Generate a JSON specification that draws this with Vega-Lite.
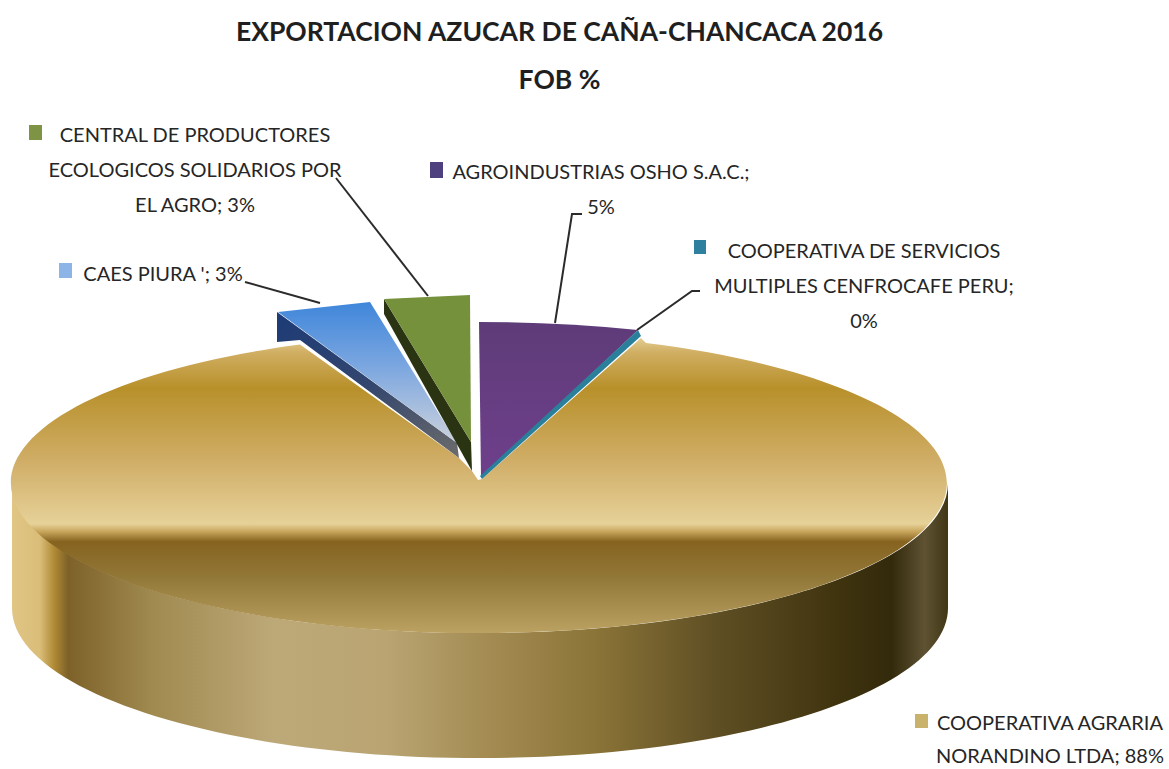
{"$schema":"https://vega.github.io/schema/vega-lite/v6.json","width":1169,"height":769,"padding":0,"autosize":{"type":"none"},"background":"white","config":{"view":{"stroke":null}},
"title":{"text":["EXPORTACION  AZUCAR DE CAÑA-CHANCACA 2016","FOB  %"],"font":"Lato","fontSize":26.5,"fontWeight":"bold","color":"#1f1f1f","anchor":"middle","baseline":"alphabetic","offset":0,"dy":115,"dx":-25,"lineHeight":48},
"resolve":{"scale":{"shape":"independent","color":"independent"}},
"data":{"values":[
{"company":"COOPERATIVA AGRARIA NORANDINO LTDA","percent":88,"label":"COOPERATIVA AGRARIA\nNORANDINO LTDA; 88%"},
{"company":"CAES PIURA","percent":3,"label":"CAES PIURA '; 3%"},
{"company":"CENTRAL DE PRODUCTORES ECOLOGICOS SOLIDARIOS POR EL AGRO","percent":3,"label":"CENTRAL DE PRODUCTORES\nECOLOGICOS SOLIDARIOS POR\nEL AGRO; 3%"},
{"company":"AGROINDUSTRIAS OSHO S.A.C.","percent":5,"label":"AGROINDUSTRIAS OSHO S.A.C.;\n5%"},
{"company":"COOPERATIVA DE SERVICIOS MULTIPLES CENFROCAFE PERU","percent":0,"label":"COOPERATIVA DE SERVICIOS\nMULTIPLES CENFROCAFE PERU;\n0%"}
]},
"layer":[
{"transform":[{"filter":"datum.percent == 88"}],"mark":{"type":"point","filled":true,"opacity":1,"size":4,"strokeWidth":0,"shape":"M-572.5,98.5 A468,150 0 0 0 363.5,98.5 L363.5,223.5 A468,150 0 0 1 -572.5,223.5 Z","fill":{"gradient":"linear","x1":0,"y1":0,"x2":1,"y2":0,"stops":[{"offset":0,"color":"#e0c585"},{"offset":0.03,"color":"#d9bd78"},{"offset":0.045,"color":"#b08a35"},{"offset":0.06,"color":"#7d6128"},{"offset":0.15,"color":"#a08a50"},{"offset":0.28,"color":"#bda878"},{"offset":0.4,"color":"#b9a472"},{"offset":0.5,"color":"#a58d55"},{"offset":0.62,"color":"#8c7538"},{"offset":0.75,"color":"#5f4f24"},{"offset":0.88,"color":"#40340f"},{"offset":0.94,"color":"#332a0c"},{"offset":0.975,"color":"#5e5232"},{"offset":1,"color":"#403616"}]}},"encoding":{}},
{"transform":[{"filter":"datum.percent == 88"}],"mark":{"type":"point","filled":true,"opacity":1,"size":4,"strokeWidth":0,"shape":"M-106.5,95.5 L-102.5,94.5 L56.5,-46.5 L61.5,-41.5 A468,150 0 1 1 -284.5,-40 L-125.5,73.5 L-112.5,86.5 Z","fill":{"gradient":"linear","x1":0,"y1":0,"x2":0,"y2":1,"stops":[{"offset":0,"color":"#e3cd92"},{"offset":0.05,"color":"#d0ae62"},{"offset":0.17,"color":"#b8902a"},{"offset":0.42,"color":"#d0ae68"},{"offset":0.63,"color":"#e6d198"},{"offset":0.655,"color":"#c9a85e"},{"offset":0.69,"color":"#86631f"},{"offset":0.82,"color":"#93793a"},{"offset":1,"color":"#bba263"}]}},"encoding":{}},
{"transform":[{"filter":"datum.company == 'CAES PIURA'"}],"mark":{"type":"point","filled":true,"opacity":1,"size":4,"strokeWidth":0,"shape":"M-307.5,-72.5 L-127.5,58.5 L-125.5,73.5 L-284.5,-44.5 L-307.5,-42.5 Z","fill":{"gradient":"linear","x1":0,"y1":0,"x2":1,"y2":1,"stops":[{"offset":0,"color":"#1d3b76"},{"offset":0.5,"color":"#33466e"},{"offset":1,"color":"#6b6b6b"}]}},"encoding":{}},
{"transform":[{"filter":"datum.company == 'CAES PIURA'"}],"mark":{"type":"point","filled":true,"opacity":1,"size":4,"strokeWidth":0,"shape":"M-306.5,-72.5 L-214.5,-82.5 L-127.5,58.5 Z","fill":{"gradient":"linear","x1":0,"y1":0,"x2":0,"y2":1,"stops":[{"offset":0,"color":"#3f86da"},{"offset":0.45,"color":"#7aa6e0"},{"offset":1,"color":"#cdd2dc"}]}},"encoding":{}},
{"transform":[{"filter":"datum.percent == 3 && datum.company != 'CAES PIURA'"}],"mark":{"type":"point","filled":true,"opacity":1,"size":4,"strokeWidth":0,"shape":"M-200.5,-85.5 L-113.5,57.5 L-112.5,86.5 L-200.5,-70.5 Z","fill":"#2b3412"},"encoding":{}},
{"transform":[{"filter":"datum.percent == 3 && datum.company != 'CAES PIURA'"}],"mark":{"type":"point","filled":true,"opacity":1,"size":4,"strokeWidth":0,"shape":"M-200.5,-85.5 L-114.5,-89.5 L-113.5,57.5 Z","fill":"#76913c"},"encoding":{}},
{"transform":[{"filter":"datum.percent == 5"}],"mark":{"type":"point","filled":true,"opacity":1,"size":4,"strokeWidth":0,"shape":"M-105.5,-62.5 Q-24.5,-62.5 53.5,-54.5 L-103.5,93.5 Z","fill":{"gradient":"linear","x1":0,"y1":0,"x2":0,"y2":1,"stops":[{"offset":0,"color":"#5e3c78"},{"offset":1,"color":"#6f3f8c"}]}},"encoding":{}},
{"transform":[{"filter":"datum.percent == 0"}],"mark":{"type":"point","filled":true,"opacity":1,"size":4,"strokeWidth":0,"shape":"M53.5,-54.5 L56.5,-48.5 L-102.5,94.5 L-104.5,91.5 Z","fill":"#2a7f9a"},"encoding":{}},
{"transform":[{"filter":"datum.percent != 88"}],"mark":{"type":"point","filled":false,"opacity":1,"size":4,"strokeWidth":2,"stroke":"#2b2b2b","fill":"transparent"},"encoding":{"shape":{"field":"company","type":"nominal","legend":null,"scale":{"domain":["CAES PIURA","CENTRAL DE PRODUCTORES ECOLOGICOS SOLIDARIOS POR EL AGRO","AGROINDUSTRIAS OSHO S.A.C.","COOPERATIVA DE SERVICIOS MULTIPLES CENFROCAFE PERU"],"range":["M-339.5,-102.5 L-264.5,-81.5","M-248.5,-206.5 L-156.5,-88.5","M-2.5,-170.5 L-12.5,-170.5 L-29.5,-61.5","M115.5,-93.5 L107.5,-93.5 L52.5,-54.5"]}}}},
{"mark":{"type":"point","filled":true,"opacity":1,"size":4,"strokeWidth":0},"encoding":{"shape":{"field":"company","type":"nominal","legend":null,"scale":{"domain":["COOPERATIVA AGRARIA NORANDINO LTDA","CAES PIURA","CENTRAL DE PRODUCTORES ECOLOGICOS SOLIDARIOS POR EL AGRO","AGROINDUSTRIAS OSHO S.A.C.","COOPERATIVA DE SERVICIOS MULTIPLES CENFROCAFE PERU"],"range":["M330.5,329.5 h13 v14 h-13 Z","M-525.5,-121.5 h13 v15 h-13 Z","M-555.5,-259.5 h13 v15 h-13 Z","M-154.5,-222.5 h13 v16 h-13 Z","M109.5,-144.5 h12 v14 h-12 Z"]}},"color":{"field":"company","type":"nominal","legend":null,"scale":{"domain":["COOPERATIVA AGRARIA NORANDINO LTDA","CAES PIURA","CENTRAL DE PRODUCTORES ECOLOGICOS SOLIDARIOS POR EL AGRO","AGROINDUSTRIAS OSHO S.A.C.","COOPERATIVA DE SERVICIOS MULTIPLES CENFROCAFE PERU"],"range":["#c9b26c","#8cb4e6","#7e9344","#4e3f7f","#2f7f9f"]}}}},
{"transform":[{"filter":"datum.percent == 88"}],"mark":{"type":"text","font":"Lato","fontSize":20,"color":"#262626","align":"center","baseline":"alphabetic","lineBreak":"\n","lineHeight":33,"dx":465.5,"dy":345.5},"encoding":{"text":{"field":"label"}}},
{"transform":[{"filter":"datum.company == 'CAES PIURA'"}],"mark":{"type":"text","font":"Lato","fontSize":20,"color":"#262626","align":"center","baseline":"alphabetic","lineBreak":"\n","lineHeight":35,"dx":-421.5,"dy":-103.5},"encoding":{"text":{"field":"label"}}},
{"transform":[{"filter":"datum.percent == 3 && datum.company != 'CAES PIURA'"}],"mark":{"type":"text","font":"Lato","fontSize":20,"color":"#262626","align":"center","baseline":"alphabetic","lineBreak":"\n","lineHeight":35,"dx":-389.5,"dy":-242.5},"encoding":{"text":{"field":"label"}}},
{"transform":[{"filter":"datum.percent == 5"}],"mark":{"type":"text","font":"Lato","fontSize":20,"color":"#262626","align":"center","baseline":"alphabetic","lineBreak":"\n","lineHeight":35,"dx":16.5,"dy":-205.5},"encoding":{"text":{"field":"label"}}},
{"transform":[{"filter":"datum.percent == 0"}],"mark":{"type":"text","font":"Lato","fontSize":20,"color":"#262626","align":"center","baseline":"alphabetic","lineBreak":"\n","lineHeight":35,"dx":279.5,"dy":-126.5},"encoding":{"text":{"field":"label"}}}
]}
